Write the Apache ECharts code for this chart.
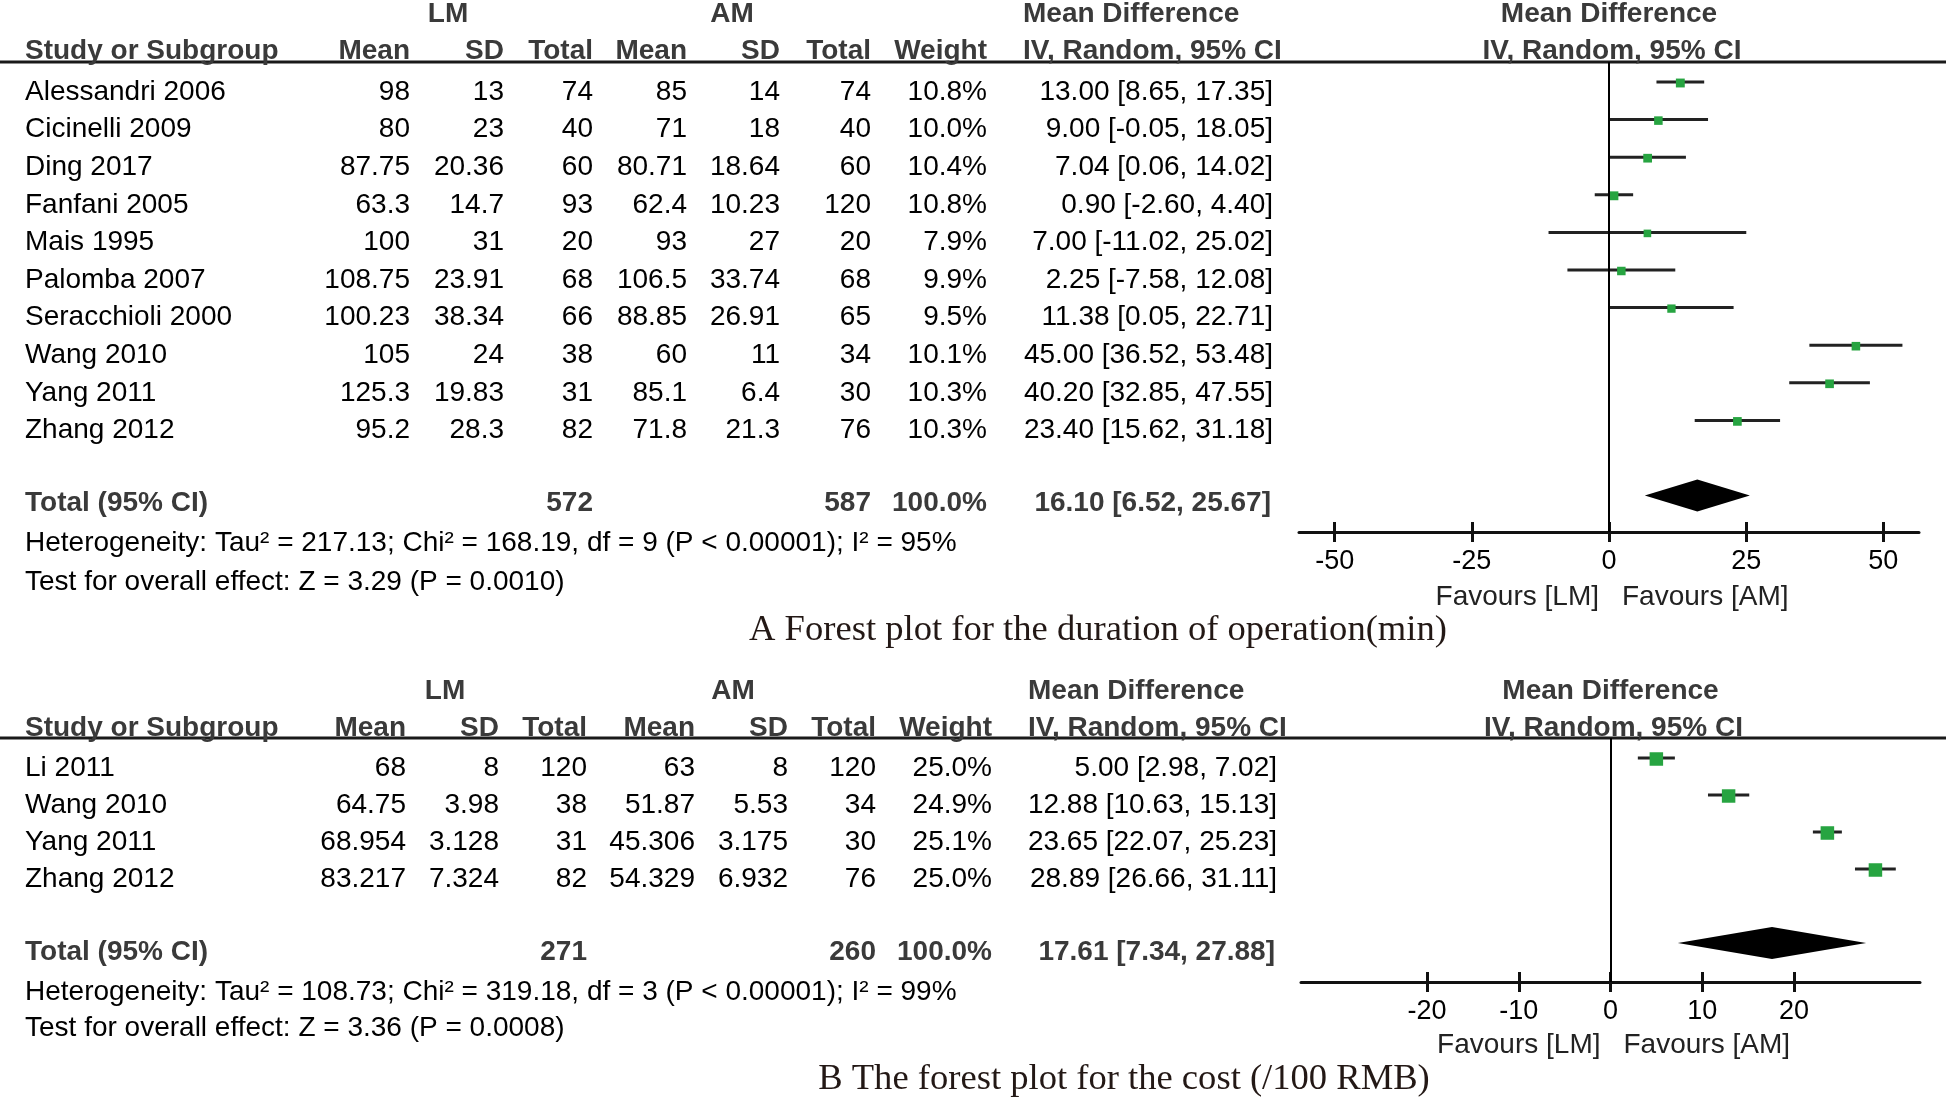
<!DOCTYPE html>
<html>
<head>
<meta charset="utf-8">
<script src="https://cdn.jsdelivr.net/npm/echarts@6/dist/echarts.min.js"></script>
<style>
html,body{margin:0;padding:0;background:#fff;}
#chart{width:1946px;height:1098px;}
</style>
</head>
<body>
<div id="chart"></div>
<script>
// ---------------- Panel A data: duration of operation (min) ----------------
const studiesA = ['Alessandri 2006','Cicinelli 2009','Ding 2017','Fanfani 2005','Mais 1995','Palomba 2007','Seracchioli 2000','Wang 2010','Yang 2011','Zhang 2012'];
const lmMeanA  = [98, 80, 87.75, 63.3, 100, 108.75, 100.23, 105, 125.3, 95.2];
const lmSdA    = [13, 23, 20.36, 14.7, 31, 23.91, 38.34, 24, 19.83, 28.3];
const lmTotalA = [74, 40, 60, 93, 20, 68, 66, 38, 31, 82];
const amMeanA  = [85, 71, 80.71, 62.4, 93, 106.5, 88.85, 60, 85.1, 71.8];
const amSdA    = [14, 18, 18.64, 10.23, 27, 33.74, 26.91, 11, 6.4, 21.3];
const amTotalA = [74, 40, 60, 120, 20, 68, 65, 34, 30, 76];
const weightA  = [10.8, 10.0, 10.4, 10.8, 7.9, 9.9, 9.5, 10.1, 10.3, 10.3];
const mdA      = [13.00, 9.00, 7.04, 0.90, 7.00, 2.25, 11.38, 45.00, 40.20, 23.40];
const loA      = [8.65, -0.05, 0.06, -2.60, -11.02, -7.58, 0.05, 36.52, 32.85, 15.62];
const hiA      = [17.35, 18.05, 14.02, 4.40, 25.02, 12.08, 22.71, 53.48, 47.55, 31.18];
const totalNA  = [572, 587];
const totalMdA = [16.10, 6.52, 25.67];
const hetA  = 'Heterogeneity: Tau² = 217.13; Chi² = 168.19, df = 9 (P < 0.00001); I² = 95%';
const testA = 'Test for overall effect: Z = 3.29 (P = 0.0010)';
const ticksA = [-50, -25, 0, 25, 50];
const captionA = 'A Forest plot for the duration of operation(min)';

// ---------------- Panel B data: cost (/100 RMB) ----------------
const studiesB = ['Li 2011','Wang 2010','Yang 2011','Zhang 2012'];
const lmMeanB  = [68, 64.75, 68.954, 83.217];
const lmSdB    = [8, 3.98, 3.128, 7.324];
const lmTotalB = [120, 38, 31, 82];
const amMeanB  = [63, 51.87, 45.306, 54.329];
const amSdB    = [8, 5.53, 3.175, 6.932];
const amTotalB = [120, 34, 30, 76];
const weightB  = [25.0, 24.9, 25.1, 25.0];
const mdB      = [5.00, 12.88, 23.65, 28.89];
const loB      = [2.98, 10.63, 22.07, 26.66];
const hiB      = [7.02, 15.13, 25.23, 31.11];
const totalNB  = [271, 260];
const totalMdB = [17.61, 7.34, 27.88];
const hetB  = 'Heterogeneity: Tau² = 108.73; Chi² = 319.18, df = 3 (P < 0.00001); I² = 99%';
const testB = 'Test for overall effect: Z = 3.36 (P = 0.0008)';
const ticksB = [-20, -10, 0, 10, 20];
const captionB = 'B The forest plot for the cost (/100 RMB)';

const headerCols = ['Mean','SD','Total','Mean','SD','Total','Weight'];

// ---------------- layout (pixels) ----------------
const layoutA = {
  h1:14, h2:51, lineY:62, row0:82, step:37.6, textOff:10, totalTextY:503,
  hetY:543, testY:582, axisY:532, favY:597, capY:630, capX:1098,
  cols:[410,504,593,687,780,871,987], ciRight:1273, lmX:448, amX:732, mdLeft:1023,
  plotLeft:1299, plotWidth:620, xMin:-56.5, xMax:56.5, sq:2.7
};
const layoutB = {
  h1:691, h2:728, lineY:738, row0:758, step:37, textOff:10, totalTextY:952,
  hetY:992, testY:1028, axisY:982, favY:1045, capY:1079, capX:1124,
  cols:[406,499,587,695,788,876,992], ciRight:1277, lmX:445, amX:733, mdLeft:1028,
  plotLeft:1301, plotWidth:619, xMin:-33.75, xMax:33.75, sq:2.7
};

const SANS = '"Liberation Sans", Arial, sans-serif';
const SERIF = '"Liberation Serif", "Times New Roman", serif';
const FS = 28;
const HEAD = '#3a3a3a';

function T(x, y, text, align, font, fill) {
  return {type:'text', x:x, y:y, silent:true, z:10,
    style:{text:text, font:font, fill:fill, align:align, verticalAlign:'middle',
           textAlign:align, textVerticalAlign:'middle'}};
}
const fmt2 = v => v.toFixed(2);
const ciText = (m, l, h) => fmt2(m) + ' [' + fmt2(l) + ', ' + fmt2(h) + ']';

function panelGraphics(L, D) {
  const els = [];
  const bold = 'bold ' + FS + 'px ' + SANS;
  const norm = FS + 'px ' + SANS;
  const zeroX = L.plotLeft + L.plotWidth * (0 - L.xMin) / (L.xMax - L.xMin);
  // header row 1
  els.push(T(L.lmX, L.h1, 'LM', 'center', bold, HEAD));
  els.push(T(L.amX, L.h1, 'AM', 'center', bold, HEAD));
  els.push(T(L.mdLeft, L.h1, 'Mean Difference', 'left', bold, HEAD));
  els.push(T(zeroX, L.h1, 'Mean Difference', 'center', bold, HEAD));
  // header row 2
  els.push(T(25, L.h2, 'Study or Subgroup', 'left', bold, HEAD));
  headerCols.forEach((h, j) => els.push(T(L.cols[j], L.h2, h, 'right', bold, HEAD)));
  els.push(T(L.mdLeft, L.h2, 'IV, Random, 95% CI', 'left', bold, HEAD));
  els.push(T(zeroX + 3, L.h2, 'IV, Random, 95% CI', 'center', bold, HEAD));
  els.push({type:'line', silent:true, z:5, shape:{x1:0, y1:L.lineY, x2:1946, y2:L.lineY},
            style:{stroke:'#1a1a1a', lineWidth:3}});
  // study rows
  D.studies.forEach((s, i) => {
    const y = L.row0 + L.step * i + L.textOff;
    const vals = [D.lmMean[i], D.lmSd[i], D.lmTotal[i], D.amMean[i], D.amSd[i], D.amTotal[i]].map(String);
    vals.push(D.weight[i].toFixed(1) + '%');
    els.push(T(25, y, s, 'left', norm, '#000'));
    vals.forEach((v, j) => els.push(T(L.cols[j], y, v, 'right', norm, '#000')));
    els.push(T(L.ciRight, y, ciText(D.md[i], D.lo[i], D.hi[i]), 'right', norm, '#000'));
  });
  // total row
  const ty = L.totalTextY;
  els.push(T(25, ty, 'Total (95% CI)', 'left', bold, HEAD));
  els.push(T(L.cols[2], ty, String(D.totalN[0]), 'right', bold, HEAD));
  els.push(T(L.cols[5], ty, String(D.totalN[1]), 'right', bold, HEAD));
  els.push(T(L.cols[6], ty, '100.0%', 'right', bold, HEAD));
  els.push(T(L.ciRight - 2, ty, ciText(D.totalMd[0], D.totalMd[1], D.totalMd[2]), 'right', bold, HEAD));
  els.push(T(25, L.hetY, D.het, 'left', norm, '#000'));
  els.push(T(25, L.testY, D.test, 'left', norm, '#000'));
  // favours
  els.push(T(zeroX - 10, L.favY, 'Favours [LM]', 'right', norm, '#222'));
  els.push(T(zeroX + 13, L.favY, 'Favours [AM]', 'left', norm, '#222'));
  // caption
  els.push(T(L.capX, L.capY, D.caption, 'center', '36.6px ' + SERIF, '#231815'));
  return els;
}

const DA = {studies:studiesA, lmMean:lmMeanA, lmSd:lmSdA, lmTotal:lmTotalA, amMean:amMeanA, amSd:amSdA,
  amTotal:amTotalA, weight:weightA, md:mdA, lo:loA, hi:hiA, totalN:totalNA, totalMd:totalMdA,
  het:hetA, test:testA, caption:captionA};
const DB = {studies:studiesB, lmMean:lmMeanB, lmSd:lmSdB, lmTotal:lmTotalB, amMean:amMeanB, amSd:amSdB,
  amTotal:amTotalB, weight:weightB, md:mdB, lo:loB, hi:hiB, totalN:totalNB, totalMd:totalMdB,
  het:hetB, test:testB, caption:captionB};

function gridOf(L) {
  return {left:L.plotLeft, width:L.plotWidth, top:L.lineY, height:L.axisY - L.lineY};
}
function yAxisOf(L, gi) {
  return {gridIndex:gi, type:'value', inverse:true, show:false,
    min:(L.lineY - L.row0) / L.step, max:(L.axisY - L.row0) / L.step};
}
function xAxesOf(L, gi, ticks) {
  const main = {gridIndex:gi, type:'value', position:'bottom', min:L.xMin, max:L.xMax,
    axisLine:{show:true, onZero:false, lineStyle:{color:'#111', width:3}},
    axisTick:{show:true, customValues:ticks, length:10, inside:false, lineStyle:{color:'#111', width:3}},
    axisLabel:{show:true, customValues:ticks, margin:16, color:'#000', fontSize:27, fontFamily:'Liberation Sans'},
    splitLine:{show:false}};
  const twin = {gridIndex:gi, type:'value', position:'bottom', min:L.xMin, max:L.xMax,
    axisLine:{show:false, onZero:false},
    axisTick:{show:true, customValues:ticks, length:10, inside:true, lineStyle:{color:'#111', width:3}},
    axisLabel:{show:false}, splitLine:{show:false}};
  return [main, twin];
}

function ciRender(k) {
  return function (params, api) {
    const y = api.value(3);
    const a = api.coord([api.value(1), y]);
    const b = api.coord([api.value(2), y]);
    const c = api.coord([api.value(0), y]);
    const s = k * Math.sqrt(api.value(4));
    return {type:'group', children:[
      {type:'line', shape:{x1:a[0], y1:a[1], x2:b[0], y2:b[1]}, style:{stroke:'#222', lineWidth:3}},
      {type:'rect', shape:{x:c[0] - s / 2, y:c[1] - s / 2 + 1, width:s, height:s}, style:{fill:'#27a441'}}
    ]};
  };
}
function diamondRender(params, api) {
  const y = api.value(3);
  const a = api.coord([api.value(1), y]);
  const b = api.coord([api.value(2), y]);
  const c = api.coord([api.value(0), y]);
  const h = 16;
  return {type:'polygon', shape:{points:[[a[0], a[1]], [c[0], c[1] - h], [b[0], b[1]], [c[0], c[1] + h]]},
    style:{fill:'#000'}};
}

function seriesOf(D, L, gi) {
  const n = D.studies.length;
  const rows = D.studies.map((_, i) => [D.md[i], D.lo[i], D.hi[i], i, D.weight[i]]);
  return [
    {type:'custom', xAxisIndex:gi * 2, yAxisIndex:gi, renderItem:ciRender(L.sq), data:rows,
      encode:{x:[0, 1, 2], y:3}, silent:true, clip:false,
      markLine:{silent:true, symbol:'none', label:{show:false}, animation:false,
        lineStyle:{color:'#000', width:2, type:'solid'}, data:[{xAxis:0}]}},
    {type:'custom', xAxisIndex:gi * 2, yAxisIndex:gi, renderItem:diamondRender,
      data:[[D.totalMd[0], D.totalMd[1], D.totalMd[2], n + 1]], encode:{x:[0, 1, 2], y:3}, silent:true, clip:false}
  ];
}

const chart = echarts.init(document.getElementById('chart'), null, {renderer:'canvas'});
chart.setOption({
  animation:false,
  backgroundColor:'#fff',
  grid:[gridOf(layoutA), gridOf(layoutB)],
  xAxis:[...xAxesOf(layoutA, 0, ticksA), ...xAxesOf(layoutB, 1, ticksB)],
  yAxis:[yAxisOf(layoutA, 0), yAxisOf(layoutB, 1)],
  series:[...seriesOf(DA, layoutA, 0), ...seriesOf(DB, layoutB, 1)],
  graphic:{elements:[...panelGraphics(layoutA, DA), ...panelGraphics(layoutB, DB)]}
});
</script>
</body>
</html>
